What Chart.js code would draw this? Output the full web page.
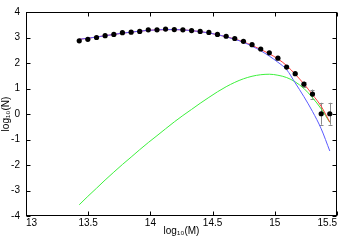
<!DOCTYPE html>
<html>
<head>
<meta charset="utf-8">
<script src="https://cdn.jsdelivr.net/npm/chart.js@4"></script>
<style>
html,body{margin:0;padding:0;background:#fff;}
#wrap{width:350px;height:245px;}
</style>
</head>
<body>
<div id="wrap"><canvas id="c" width="350" height="245"></canvas></div>
<script>
// bin centres, log10(M)
const logM = [13.428,13.497,13.567,13.636,13.706,13.775,13.845,13.914,13.983,14.053,
              14.122,14.192,14.261,14.331,14.400,14.470,14.539,14.609,14.678,14.748,
              14.817,14.887,14.956,15.025,15.095,15.164,15.234,15.303,15.373,15.442];
// measured counts, log10(N)
const logN = [2.87,2.93,3.00,3.07,3.12,3.19,3.21,3.24,3.30,3.30,
              3.33,3.31,3.30,3.27,3.24,3.20,3.12,3.05,2.96,2.85,
              2.72,2.55,2.40,2.19,1.84,1.58,1.17,0.78,0.01,0.01];
// error bars on log10(N)
const logNErr = [0,0,0,0,0,0,0,0,0,0,
                 0,0,0,0,0,0,0,0,0,0,
                 0,0,0,0,0,0.03,0.10,0.18,0.43,0.43];
// total fit (red)
const fitTotal = [2.93,2.97,3.02,3.07,3.12,3.17,3.21,3.25,3.28,3.30,
                  3.31,3.31,3.30,3.27,3.23,3.18,3.11,3.03,2.94,2.83,
                  2.69,2.53,2.36,2.16,1.90,1.56,1.18,0.76,0.30,-0.32];
// first component (blue)
const fitLow = [2.93,2.97,3.02,3.07,3.12,3.17,3.21,3.25,3.28,3.30,
                3.31,3.31,3.30,3.27,3.23,3.18,3.11,3.03,2.93,2.81,
                2.66,2.48,2.27,2.03,1.74,1.22,0.68,0.10,-0.58,-1.45];
// second component (green)
const fitHigh = [-3.56,-3.23,-2.91,-2.59,-2.28,-1.98,-1.69,-1.40,-1.12,-0.85,
                 -0.58,-0.31,-0.06,0.18,0.42,0.65,0.87,1.07,1.24,1.38,
                 1.48,1.54,1.56,1.52,1.43,1.26,1.00,0.64,0.20,-0.33];
const xTicks = [13,13.5,14,14.5,15,15.5];
const yTicks = [-4,-3,-2,-1,0,1,2,3,4];

const pts = arr => logM.map((m,i)=>({x:m,y:arr[i]}));

const frame = {
  id:'frame',
  beforeDatasetsDraw(chart){
    const {ctx, chartArea:a, scales:{x,y}} = chart;
    ctx.save();
    ctx.strokeStyle='#000'; ctx.lineWidth=1;
    const L=Math.round(a.left)+0.5, R=Math.round(a.right)-0.5, T=Math.round(a.top)+0.5, B=Math.round(a.bottom)-0.5;
    ctx.strokeRect(L,T,R-L,B-T);
    ctx.beginPath();
    x.ticks.forEach(t=>{const p=Math.round(x.getPixelForValue(t.value))+0.5;
      ctx.moveTo(p,B);ctx.lineTo(p,B-4);ctx.moveTo(p,T);ctx.lineTo(p,T+4);});
    y.ticks.forEach(t=>{const p=Math.round(y.getPixelForValue(t.value))+0.5;
      ctx.moveTo(L,p);ctx.lineTo(L+4,p);ctx.moveTo(R,p);ctx.lineTo(R-4,p);});
    ctx.stroke();
    // error bars
    ctx.strokeStyle='#8a8a8a';
    ctx.beginPath();
    logM.forEach((m,i)=>{
      const e=logNErr[i]; if(!e) return;
      const px=Math.round(x.getPixelForValue(m))+0.5;
      const y1=y.getPixelForValue(logN[i]+e), y2=y.getPixelForValue(logN[i]-e);
      ctx.moveTo(px,y1);ctx.lineTo(px,y2);
      ctx.moveTo(px-2,Math.round(y1)+0.5);ctx.lineTo(px+2,Math.round(y1)+0.5);
      ctx.moveTo(px-2,Math.round(y2)+0.5);ctx.lineTo(px+2,Math.round(y2)+0.5);
    });
    ctx.stroke();
    ctx.restore();
  }
};

const font = {family:'"Liberation Sans", Arial, sans-serif', size:10};

new Chart(document.getElementById('c'), {
  type:'scatter',
  data:{datasets:[
    {label:'data', data:pts(logN), showLine:false, pointRadius:2.6, pointBackgroundColor:'#000', pointBorderColor:'#000', pointBorderWidth:0, order:0},
    {label:'low', data:pts(fitLow), showLine:true, pointRadius:0, borderColor:'#5a5aff', borderWidth:1, cubicInterpolationMode:'monotone', order:1},
    {label:'total', data:pts(fitTotal), showLine:true, pointRadius:0, borderColor:'#ff3a3a', borderWidth:1, cubicInterpolationMode:'monotone', order:2},
    {label:'high', data:pts(fitHigh), showLine:true, pointRadius:0, borderColor:'#3cf03c', borderWidth:1, cubicInterpolationMode:'monotone', order:3}
  ]},
  options:{
    responsive:false, animation:false, devicePixelRatio:1,
    layout:{padding:{left:0,right:13,top:8,bottom:0}},
    plugins:{legend:{display:false}, tooltip:{enabled:false}},
    scales:{
      x:{type:'linear', min:13, max:15.5,
         afterBuildTicks:s=>{s.ticks=xTicks.map(v=>({value:v}));},
         afterFit:s=>{s.height=29;},
         grid:{display:false, drawTicks:false}, border:{display:false},
         ticks:{font, color:'#000', padding:1, align:'inner', maxRotation:0, autoSkip:false, callback:v=>String(v)},
         title:{display:true, text:'log₁₀(M)', font, color:'#000', padding:{top:0,bottom:8}}},
      y:{type:'linear', min:-4, max:4,
         afterBuildTicks:s=>{s.ticks=yTicks.map(v=>({value:v}));},
         afterFit:s=>{s.width=26;},
         grid:{display:false, drawTicks:false}, border:{display:false},
         ticks:{font, color:'#000', padding:6, autoSkip:false, callback:v=>String(v)},
         title:{display:true, text:'log₁₀(N)', font, color:'#000', padding:{top:0,bottom:0}}}
    }
  },
  plugins:[frame]
});
</script>
</body>
</html>
